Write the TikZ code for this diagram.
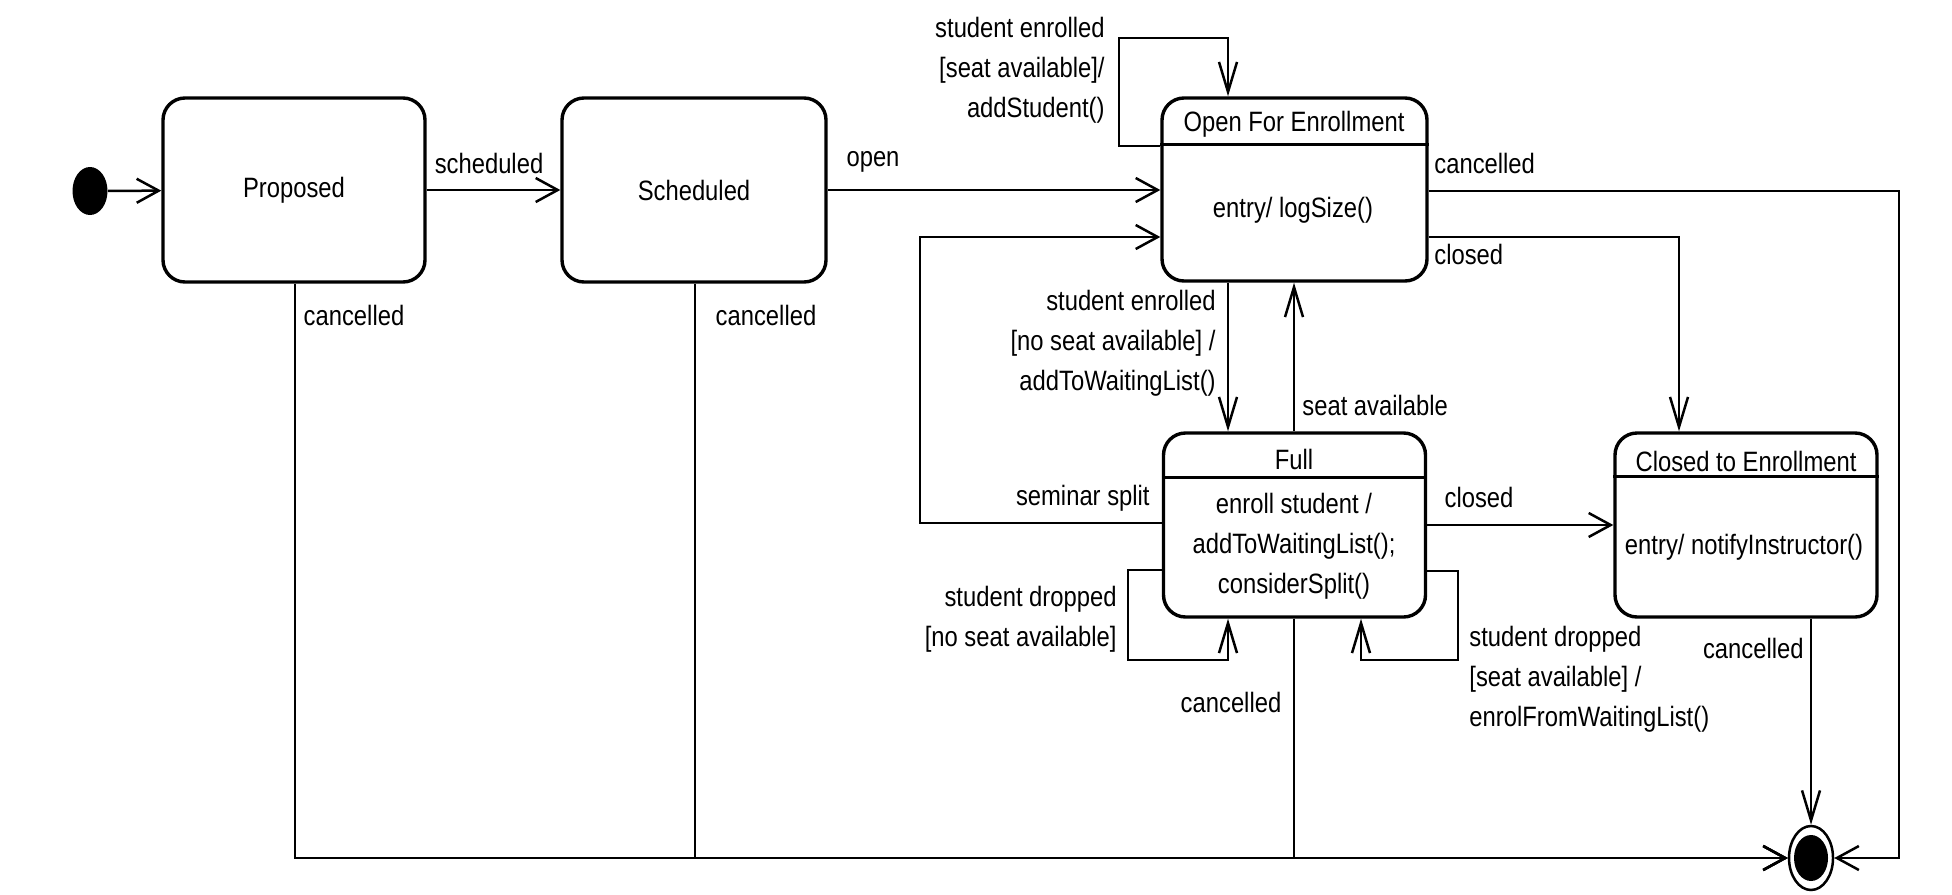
\documentclass[tikz,border=0pt]{standalone}
\usepackage{fontspec}
\setmainfont{Liberation Sans}[FakeStretch=0.85]
\usetikzlibrary{arrows.meta,shapes.geometric}
\begin{document}
\begin{tikzpicture}[x=0.5pt,y=-0.5pt,
  every node/.style={font=\fontsize{14}{20}\selectfont, inner sep=0pt},
  state/.style={draw, line width=1.7pt, rounded corners=11pt, minimum width=131pt, minimum height=92pt},
  hdr/.style={line width=1.5pt},
  conn/.style={line width=1.25pt},
  harr/.style={conn, -{Straight Barb[length=11pt,width=12pt,line width=1.25pt]}},
  varr/.style={conn, -{Straight Barb[length=15pt,width=9pt,line width=1.25pt]}},
  lbl/.style={align=center},
]
\useasboundingbox (0,0) rectangle (1952,894);

% states
\node[ellipse, fill=black, minimum width=17.5pt, minimum height=24pt] (init) at (90,191) {};
\node[state] (proposed) at (294,190) {Proposed};
\node[state, minimum width=132pt] (scheduled) at (694,190) {Scheduled};
\node[state, minimum width=132.5pt, minimum height=91.5pt] (ofe) at (1294.5,189.5) {};
\node[state] (full) at (1294.5,525) {};
\node[state] (closed) at (1746,525) {};
\node[ellipse, draw, line width=1.25pt, fill=white, minimum width=22pt, minimum height=32pt] (final) at (1811,858) {};
\node[ellipse, fill=black, minimum width=17pt, minimum height=23pt] (finalIn) at (final.center) {};

% compartments
\draw[hdr] ([yshift=-24pt]ofe.north west) -- ([yshift=-24pt]ofe.north east);
\draw[hdr] ([yshift=-23pt]full.north west) -- ([yshift=-23pt]full.north east);
\draw[hdr] ([yshift=-22.5pt]closed.north west) -- ([yshift=-22.5pt]closed.north east);

\node (ofeTitle) at (1294,124) {Open For Enrollment};
\node (ofeBody) at (1293,210) {entry/ logSize()};
\node (fullTitle) at (1294,459) {Full};
\node[lbl] (fullBody) at (1294,546) {enroll student /\\addToWaitingList();\\considerSplit()};
\node (closedTitle) at (1746,461) {Closed to Enrollment};
\node (closedBody) at (1744,547) {entry/ notifyInstructor()};

% transitions
\draw[harr] (init) -- (proposed);
\draw[harr] (proposed) -- (scheduled);
\node (lScheduled) at (489,163) {scheduled};
\draw[harr] (scheduled.east) -- (ofe.west |- scheduled.east);
\node (lOpen) at (873,162) {open};

% OFE self loop
\draw[varr] (ofe.west |- 0,146) -- (1119,146) -- (1119,38) -- (1228,38) -- (ofe.north -| 1228,0);
\node[align=right, anchor=east] (lSelf) at (1105,70) {student enrolled\\{}[seat available]/\\addStudent()};

% OFE cancelled
\draw[harr] (ofe.east |- 0,191) -- (1899,191) -- (1899,858) -- (final.east);
\node[anchor=west] (lOfeCancel) at (1434,163) {cancelled};

% OFE closed
\draw[varr] (ofe.east |- 0,237) -- (1679,237) -- (closed.north -| 1679,0);
\node[anchor=west] (lOfeClosed) at (1434,254) {closed};

% OFE -> Full
\draw[varr] (ofe.south -| 1228,0) -- (full.north -| 1228,0);
\node[align=right, anchor=east] (lEnrollFull) at (1216,343) {student enrolled\\{}[no seat available] /\\addToWaitingList()};

% Full -> OFE
\draw[varr] (full.north -| 1294,0) -- (ofe.south -| 1294,0);
\node[anchor=west] (lSeat) at (1302,405) {seat available};

% seminar split
\draw[harr] (full.west |- 0,523) -- (920,523) -- (920,237) -- (ofe.west |- 0,237);
\node[anchor=east] (lSplit) at (1150,498) {seminar split};

% Full -> Closed
\draw[harr] (full.east |- 0,525) -- (closed.west |- 0,525);
\node (lFullClosed) at (1479,497) {closed};

% Full self loops
\draw[varr] (full.west |- 0,570) -- (1128,570) -- (1128,660) -- (1228,660) -- (full.south -| 1228,0);
\node[align=right, anchor=east] (lDropNo) at (1117,619) {student dropped\\{}[no seat available]};
\draw[varr] (full.east |- 0,571) -- (1458,571) -- (1458,660) -- (1361,660) -- (full.south -| 1361,0);
\node[align=left, anchor=west] (lDropYes) at (1469,679) {student dropped\\{}[seat available] /\\enrolFromWaitingList()};

% cancelled transitions to final
\draw[harr] (proposed.south -| 295,0) -- (295,858) -- (final.west);
\node (lPropCancel) at (354,315) {cancelled};
\draw[harr] (scheduled.south -| 695,0) -- (695,858) -- (final.west);
\node (lSchedCancel) at (766,315) {cancelled};
\draw[harr] (full.south -| 1294,0) -- (1294,858) -- (final.west);
\node (lFullCancel) at (1231,702) {cancelled};
\draw[varr] (closed.south -| 1811,0) -- (final.north);
\node[anchor=east] (lClosedCancel) at (1804,648) {cancelled};
\end{tikzpicture}
\end{document}
